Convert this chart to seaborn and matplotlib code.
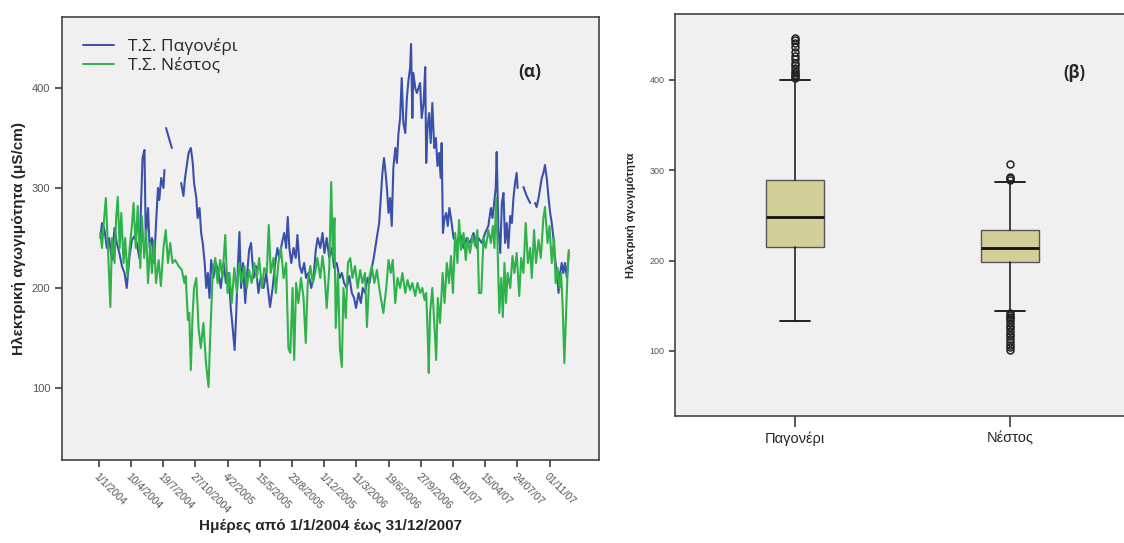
import numpy as np
import pandas as pd
import matplotlib.pyplot as plt
import seaborn as sns

# Daily electrical conductivity (uS/cm), 1/1/2004 - 31/12/2007 (day index from 1/1/2004)
nestos_days = [5, 10, 15, 22, 28, 36, 41, 49, 54, 59, 65, 70, 77, 82, 89, 96, 103, 108, 115, 121,
               129, 134, 141, 147, 153, 160, 165, 172, 178, 186, 193, 201, 208, 215, 222, 229, 237, 248, 258, 266,
               270, 277, 281, 286, 291, 296, 303, 310, 317, 325, 333, 341, 346, 354, 362, 369, 377, 384, 393, 400,
               406, 413, 421, 429, 436, 444, 452, 460, 467, 475, 483, 491, 498, 507, 514, 522, 528, 534, 543, 550,
               558, 566, 574, 582, 589, 595, 602, 607, 613, 620, 628, 636, 643, 649, 657, 665, 672, 679, 688, 695,
               701, 708, 716, 722, 727, 732, 736, 743, 749, 755, 760, 767, 774, 781, 788, 796, 804, 812, 819, 827,
               833, 840, 848, 856, 864, 871, 879, 884, 893, 900, 907, 913, 921, 928, 936, 943, 952, 959, 967, 974,
               983, 990, 998, 1005, 1012, 1017, 1022, 1025, 1029, 1036, 1043, 1048, 1053, 1060, 1068, 1074, 1081, 1088, 1094, 1100,
               1107, 1114, 1119, 1125, 1133, 1140, 1146, 1153, 1161, 1169, 1176, 1181, 1188, 1195, 1202, 1210, 1218, 1224, 1229, 1234,
               1238, 1244, 1250, 1255, 1260, 1265, 1270, 1278, 1285, 1291, 1298, 1306, 1312, 1319, 1326, 1333, 1340, 1345, 1352, 1358,
               1366, 1373, 1381, 1386, 1394, 1400, 1407, 1414, 1419, 1425, 1431, 1436, 1441, 1446, 1451, 1457, 1460]
nestos_ec = [255, 240, 262, 290, 245, 181, 250, 225, 270, 291, 240, 275, 225, 250, 212, 240, 262, 285, 240, 282,
             220, 272, 230, 258, 205, 245, 215, 248, 205, 228, 202, 240, 258, 225, 245, 225, 228, 222, 218, 205,
             212, 168, 175, 118, 170, 200, 210, 160, 140, 165, 125, 101, 150, 215, 230, 205, 228, 210, 253, 195,
             215, 185, 220, 195, 225, 205, 222, 200, 218, 205, 225, 210, 230, 200, 220, 215, 263, 215, 230, 195,
             225, 240, 210, 225, 140, 135, 200, 128, 205, 185, 210, 190, 145, 205, 222, 205, 215, 230, 210, 232,
             215, 180, 220, 306, 230, 270, 160, 215, 140, 121, 200, 170, 225, 230, 210, 222, 200, 218, 205, 215,
             161, 210, 222, 205, 218, 200, 185, 175, 200, 228, 215, 228, 185, 210, 200, 215, 195, 208, 198, 205,
             192, 205, 195, 200, 188, 195, 150, 115, 175, 200, 160, 128, 190, 165, 215, 185, 225, 205, 232, 195,
             255, 225, 268, 238, 255, 228, 250, 235, 252, 242, 258, 195, 195, 250, 240, 258, 245, 262, 240, 290,
             250, 175, 210, 171, 225, 185, 215, 200, 232, 215, 235, 192, 230, 215, 265, 225, 240, 210, 258, 225,
             248, 230, 270, 281, 245, 262, 225, 250, 205, 220, 200, 215, 180, 125, 170, 225, 238]

pag_days = [5, 10, 18, 25, 32, 41, 49, 56, 64, 72, 80, 87, 95, 103, 111, 118, 126, 132, 136, 142,
            146, 153, 158, 165, 172, 178, 184, 188, 194, 201, 204, 206, 209, 218, 227, 230, 256, 263, 268, 279,
            286, 292, 296, 303, 307, 313, 318, 323, 329, 334, 339, 344, 349, 356, 364, 372, 379, 388, 395, 403,
            410, 416, 422, 427, 432, 437, 442, 448, 455, 460, 467, 473, 481, 488, 496, 503, 512, 520, 527, 532,
            540, 548, 555, 561, 569, 576, 582, 587, 592, 598, 605, 612, 617, 624, 631, 638, 644, 651, 660, 667,
            674, 680, 688, 695, 701, 708, 716, 724, 731, 739, 748, 755, 762, 770, 778, 786, 793, 799, 807, 814,
            820, 827, 835, 841, 848, 854, 861, 866, 871, 876, 881, 886, 890, 895, 900, 905, 910, 915, 921, 926,
            931, 936, 941, 946, 952, 957, 962, 967, 970, 974, 977, 983, 988, 993, 998, 1003, 1009, 1014, 1017, 1021,
            1026, 1031, 1036, 1042, 1047, 1052, 1057, 1062, 1065, 1069, 1074, 1079, 1084, 1089, 1094, 1102, 1112, 1122, 1133, 1143,
            1153, 1164, 1174, 1179, 1190, 1200, 1210, 1218, 1223, 1228, 1233, 1236, 1241, 1247, 1252, 1257, 1262, 1267, 1272, 1278,
            1283, 1288, 1293, 1298, 1301, 1305, 1319, 1329, 1340, 1345, 1355, 1360, 1366, 1371, 1376, 1381, 1386, 1392, 1397, 1402,
            1407, 1412, 1417, 1423, 1428, 1433, 1438, 1443, 1448, 1454, 1460]
pag_ec = [250, 265, 258, 240, 250, 228, 260, 245, 235, 222, 215, 200, 230, 248, 252, 245, 230, 290, 330, 338,
          250, 280, 240, 250, 225, 265, 300, 288, 310, 300, 318, np.nan, 360, 350, 340, np.nan, 305, 292, 310, 335,
          340, 325, 305, 290, 270, 280, 255, 245, 225, 200, 215, 190, 228, 210, 225, 215, 200, 225, 205, 215,
          180, 160, 138, 175, 220, 256, 200, 225, 185, 210, 238, 245, 210, 222, 195, 210, 200, 215, 195, 181,
          200, 225, 240, 230, 245, 255, 240, 271, 240, 225, 240, 230, 253, 222, 215, 225, 210, 215, 200, 210,
          238, 250, 240, 255, 235, 250, 230, 240, 220, 225, 210, 215, 205, 200, 212, 195, 190, 180, 195, 185,
          200, 195, 210, 205, 220, 230, 245, 255, 265, 290, 315, 330, 318, 300, 275, 290, 262, 320, 340, 325,
          355, 370, 410, 365, 355, 390, 408, 420, 444, 370, 415, 400, 395, 400, 405, 370, 385, 421, 325, 360,
          375, 345, 385, 340, 350, 322, 335, 310, 345, 255, 270, 275, 262, 280, 270, 250, 245, 255, 240, 250,
          245, 255, 240, 250, 245, 255, 262, 280, 270, 285, 300, 336, 260, 235, 285, 295, 245, 265, 240, 272,
          265, 290, 305, 315, 300, np.nan, 301, 292, 285, np.nan, 285, 281, 290, 300, 310, 315, 323, 308, 290, 275,
          265, 250, 230, 215, 195, 215, 225, 215, 225, 210, 235]

tick_days = [0, 100, 200, 300, 400, 500, 600, 700, 800, 900, 1000, 1100, 1200, 1300, 1400]
tick_labels = ["1/1/2004", "10/4/2004", "19/7/2004", "27/10/2004", "4/2/2005", "15/5/2005",
               "23/8/2005", "1/12/2005", "11/3/2006", "19/6/2006", "27/9/2006", "05/01/07",
               "15/04/07", "24/07/07", "01/11/07"]

# boxplot summary (panel b)
stations = ["Παγονέρι", "Νέστος"]
box_q1 = [215, 199]
box_med = [248, 214]
box_q3 = [289, 234]
whisk_lo = [133, 144]
whisk_hi = [400, 287]
fliers = [
    [402, 404, 406, 408, 410, 413, 416, 419, 423, 427, 431, 436, 441, 444, 446],
    [289, 291, 293, 307, 142, 140, 138, 136, 134, 131, 128, 125, 122, 119, 116, 113, 110, 107, 104, 101],
]

BLUE = "#3b50ab"
GREEN = "#2fb24a"
BG = "#f0f0f0"
SPINE = "#444444"

sns.set_theme(style="ticks")
plt.rcParams["font.family"] = ["Liberation Sans", "DejaVu Sans"]

fig = plt.figure(figsize=(11.24, 5.43), dpi=100)
ax1 = fig.add_axes([0.0552, 0.1529, 0.4778, 0.8158])
ax2 = fig.add_axes([0.6005, 0.2339, 0.4048, 0.7403])

# --- (a) time series ---
pag = pd.DataFrame({"day": pag_days, "ec": pag_ec})
pag["seg"] = pag["ec"].isna().cumsum()
pag = pag.dropna()
nes = pd.DataFrame({"day": nestos_days, "ec": nestos_ec})

sns.lineplot(data=pag, x="day", y="ec", units="seg", estimator=None, color=BLUE,
             lw=1.5, ax=ax1)
sns.lineplot(data=nes, x="day", y="ec", estimator=None, color=GREEN, lw=1.5, ax=ax1)

ax1.set_facecolor(BG)
ax1.set_xlim(-114, 1554)
ax1.set_ylim(28, 471)
ax1.set_yticks([100, 200, 300, 400])
ax1.tick_params(axis="y", labelsize=8, labelcolor="#555555", length=5, color=SPINE)
ax1.set_xticks(tick_days)
ax1.set_xticklabels(tick_labels, rotation=-45, ha="left", rotation_mode="anchor",
                    fontsize=7.5, color="#555555")
ax1.tick_params(axis="x", length=5, color=SPINE, pad=3)
ax1.set_xlabel("Ημέρες από 1/1/2004 έως 31/12/2007", fontsize=11, fontweight="bold")
ax1.xaxis.set_label_coords(0.5, -0.133)
ax1.set_ylabel("Ηλεκτρική αγωγιμότητα (μS/cm)", fontsize=11, fontweight="bold", labelpad=4)
for s in ax1.spines.values():
    s.set_color(SPINE)
    s.set_linewidth(1.2)

leg_handles = [plt.Line2D([], [], color=BLUE, lw=1.4), plt.Line2D([], [], color=GREEN, lw=1.4)]
ax1.legend(leg_handles, ["Τ.Σ. Παγονέρι", "Τ.Σ. Νέστος"], loc="upper left", frameon=False,
           handlelength=1.8, borderaxespad=0.8, labelspacing=0.15,
           prop={"family": ["Open Sans", "DejaVu Sans"], "size": 12.5})
ax1.text(1340, 416, "(α)", fontsize=12.5, fontweight="bold", ha="center", va="center",
         family=["Open Sans", "DejaVu Sans"])

# --- (b) boxplots ---
stats = []
for i, name in enumerate(stations):
    stats.append({"label": name, "q1": box_q1[i], "med": box_med[i], "q3": box_q3[i],
                  "whislo": whisk_lo[i], "whishi": whisk_hi[i], "fliers": fliers[i]})
ax2.bxp(stats, positions=[0, 1], widths=0.27, patch_artist=True,
        boxprops=dict(facecolor="#d3cf98", edgecolor="#555555", lw=1.0),
        medianprops=dict(color="#111111", lw=2),
        whiskerprops=dict(color="#111111", lw=1.1),
        capprops=dict(color="#111111", lw=1.3),
        capwidths=0.14,
        flierprops=dict(marker="o", markersize=5, markerfacecolor="none",
                        markeredgecolor="#222222", markeredgewidth=1.1))
ax2.set_facecolor(BG)
ax2.set_xlim(-0.558, 1.558)
ax2.set_ylim(28, 473)
ax2.set_yticks([100, 200, 300, 400])
ax2.tick_params(axis="y", labelsize=6.5, labelcolor="#555555", length=4, color=SPINE)
ax2.tick_params(axis="x", labelsize=10.5, length=8, color=SPINE, pad=3)
ax2.set_ylabel("Ηλεκτρική αγωγιμότητα", fontsize=8, fontweight="bold", labelpad=10)
ax2.text(1.30, 408, "(β)", fontsize=12, fontweight="bold", ha="center", va="center",
         family=["Open Sans", "DejaVu Sans"])
for s in ax2.spines.values():
    s.set_color(SPINE)
    s.set_linewidth(1.2)

fig.savefig("out.png", dpi=100, facecolor="white")
